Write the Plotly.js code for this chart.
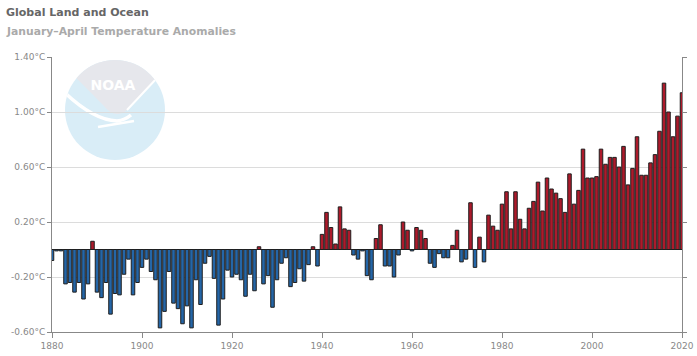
<!DOCTYPE html>
<html>
<head>
<meta charset="utf-8">
<script src="https://cdn.plot.ly/plotly-3.0.1.min.js"></script>
<style>
  html, body { margin: 0; padding: 0; background: #fff; }
  #chart { width: 697px; height: 356px; }
</style>
</head>
<body>
<div id="chart"></div>
<script>
// ---- Data ----
const titleText = "Global Land and Ocean";
const subtitleText = "January–April Temperature Anomalies";

const years = [];
for (let y = 1880; y <= 2020; y++) years.push(y);

const anomalies1880s = [-0.08, -0.01, -0.01, -0.25, -0.24, -0.31, -0.24, -0.36, -0.25, 0.06];
const anomalies1890s = [-0.31, -0.35, -0.24, -0.47, -0.32, -0.33, -0.18, -0.07, -0.33, -0.24];
const anomalies1900s = [-0.13, -0.07, -0.16, -0.22, -0.57, -0.45, -0.16, -0.39, -0.43, -0.54];
const anomalies1910s = [-0.41, -0.57, -0.22, -0.40, -0.10, -0.05, -0.21, -0.55, -0.36, -0.15];
const anomalies1920s = [-0.20, -0.18, -0.22, -0.34, -0.18, -0.30, 0.02, -0.25, -0.19, -0.42];
const anomalies1930s = [-0.22, -0.10, -0.06, -0.27, -0.24, -0.14, -0.23, -0.11, 0.02, -0.12];
const anomalies1940s = [0.11, 0.27, 0.16, 0.04, 0.31, 0.15, 0.14, -0.04, -0.07, -0.01];
const anomalies1950s = [-0.19, -0.22, 0.08, 0.18, -0.12, -0.12, -0.20, -0.04, 0.20, 0.14];
const anomalies1960s = [-0.01, 0.16, 0.14, 0.08, -0.10, -0.13, -0.03, -0.06, -0.06, 0.03];
const anomalies1970s = [0.14, -0.09, -0.07, 0.34, -0.13, 0.09, -0.09, 0.25, 0.17, 0.14];
const anomalies1980s = [0.33, 0.42, 0.15, 0.42, 0.22, 0.15, 0.30, 0.35, 0.49, 0.28];
const anomalies1990s = [0.52, 0.44, 0.41, 0.37, 0.27, 0.55, 0.33, 0.43, 0.73, 0.52];
const anomalies2000s = [0.52, 0.53, 0.73, 0.62, 0.67, 0.67, 0.60, 0.75, 0.47, 0.59];
const anomalies2010s = [0.82, 0.54, 0.54, 0.63, 0.69, 0.86, 1.21, 1.00, 0.82, 0.97];
const anomalies2020s = [1.14];

const anomalies = [].concat(
  anomalies1880s, anomalies1890s, anomalies1900s, anomalies1910s, anomalies1920s,
  anomalies1930s, anomalies1940s, anomalies1950s, anomalies1960s, anomalies1970s,
  anomalies1980s, anomalies1990s, anomalies2000s, anomalies2010s, anomalies2020s
);

const yTickVals = [-0.6, -0.2, 0.2, 0.6, 1.0, 1.4];
const yTickText = yTickVals.map(v => v.toFixed(2) + "°C");
const xTickVals = [1880, 1900, 1920, 1940, 1960, 1980, 2000, 2020];

// ---- Styling ----
const RED = "#ad1a2b";
const BLUE = "#2466a8";
const barColors = anomalies.map(v => v >= 0 ? RED : BLUE);

const logoSvg =
  '<svg xmlns="http://www.w3.org/2000/svg" viewBox="0 0 100 100" width="200" height="200">' +
  '<defs><clipPath id="c"><circle cx="50" cy="50" r="50"/></clipPath></defs>' +
  '<circle cx="50" cy="50" r="50" fill="#d9edf7"/>' +
  '<g clip-path="url(#c)">' +
  '<path d="M0,0 L100,0 L100,14 L90,20 L62,50 Q50,60 38,45 L8.3,15 L0,14 Z" fill="#e6e7ec"/>' +
  '<path d="M-2,31 Q28,60 52,61 Q60,60 66,55" stroke="#ffffff" stroke-width="3.5" fill="none"/>' +
  '<path d="M62,50 L92,18" stroke="#ffffff" stroke-width="2" fill="none"/>' +
  '<path d="M33,67 L69,61" stroke="#ffffff" stroke-width="2.5" fill="none"/>' +
  '</g>' +
  '<text x="48" y="30" text-anchor="middle" font-family="DejaVu Sans, sans-serif" font-weight="bold" font-size="14" fill="#ffffff">NOAA</text>' +
  '</svg>';
const logoUri = "data:image/svg+xml;charset=utf-8," + encodeURIComponent(logoSvg);

const trace = {
  type: "bar",
  x: years,
  y: anomalies,
  marker: { color: barColors, line: { color: "#1e1e1e", width: 1 } },
  cliponaxis: false,
  hoverinfo: "x+y",
  showlegend: false
};

const layout = {
  width: 697,
  height: 356,
  margin: { l: 52, r: 15, t: 57, b: 24 },
  paper_bgcolor: "#ffffff",
  plot_bgcolor: "rgba(0,0,0,0)",
  bargap: 0.22,
  font: { family: "DejaVu Sans, sans-serif", color: "#888", size: 9 },
  title: {
    text: "<b>" + titleText + "</b>",
    font: { family: "DejaVu Sans, sans-serif", size: 11, color: "#666" },
    xref: "container", yref: "container",
    x: 6 / 697, xanchor: "left",
    y: 1 - 12.5 / 356, yanchor: "middle"
  },
  annotations: [{
    text: "<b>" + subtitleText + "</b>",
    font: { family: "DejaVu Sans, sans-serif", size: 10.8, color: "#aaa" },
    xref: "paper", yref: "paper",
    x: (4 - 52) / 630, xanchor: "left",
    y: (332 - 31.5) / 275, yanchor: "middle",
    showarrow: false
  }],
  xaxis: {
    range: [1880, 2020],
    tickvals: xTickVals,
    ticks: "outside", ticklen: 5, tickcolor: "#888",
    showline: true, linecolor: "#888", linewidth: 1,
    showgrid: false, zeroline: false,
    tickfont: { size: 9, color: "#888" }
  },
  yaxis: {
    range: [-0.6, 1.4],
    tickvals: yTickVals,
    ticktext: yTickText,
    ticks: "outside", ticklen: 4, tickcolor: "#888",
    showline: true, linecolor: "#888", linewidth: 1, mirror: "ticks",
    showgrid: true, gridcolor: "#dcdcdc", gridwidth: 1,
    zeroline: true, zerolinecolor: "#222", zerolinewidth: 1,
    tickfont: { size: 9, color: "#888" }
  },
  images: [{
    source: logoUri,
    xref: "paper", yref: "paper",
    x: (65 - 52) / 630, y: (332 - 60) / 275,
    sizex: 100 / 630, sizey: 100 / 275,
    xanchor: "left", yanchor: "top",
    sizing: "stretch", layer: "below", opacity: 1
  }]
};

Plotly.newPlot("chart", [trace], layout, { displayModeBar: false, staticPlot: true });
</script>
</body>
</html>
